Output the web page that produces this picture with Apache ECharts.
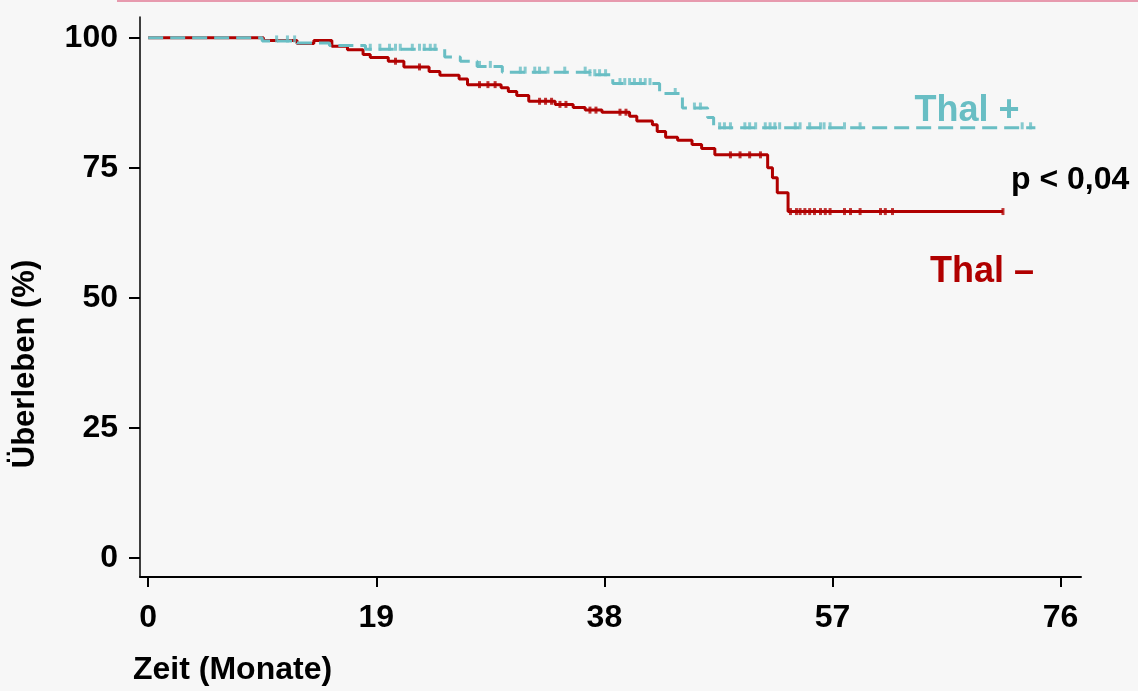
<!DOCTYPE html>
<html>
<head>
<meta charset="utf-8">
<script src="https://cdn.jsdelivr.net/npm/echarts@6/dist/echarts.min.js"></script>
<style>
  html, body { margin: 0; padding: 0; background: #f7f7f7; }
  #chart { width: 1138px; height: 691px; }
</style>
</head>
<body>
<div id="chart"></div>
<script>
// Kaplan-Meier Stufen: Zeitpunkt (Monate) -> Überleben (%) ab diesem Zeitpunkt
const thalMinusTimes = [0, 9.6, 12.4, 13.8, 15.3, 16.6, 17.9, 18.5, 20.0, 21.3, 23.4, 24.3, 25.9, 26.6, 29.4, 30.0, 30.7, 31.7, 33.9, 35.4, 36.4, 37.8, 40.1, 40.7, 42.0, 42.4, 43.1, 44.1, 45.3, 46.1, 47.2, 51.6, 52.0, 52.4, 53.3, 71.2];
const thalMinusSurv = [100, 99.5, 98.9, 99.5, 98.4, 97.7, 96.8, 96.2, 95.5, 94.4, 93.5, 92.8, 92.1, 91.0, 90.4, 89.7, 88.9, 87.8, 87.2, 86.6, 86.1, 85.7, 84.9, 84.0, 83.3, 82.0, 80.9, 80.3, 79.5, 78.7, 77.5, 75.0, 73.1, 70.2, 66.6, 66.6];

const thalPlusTimes = [0, 9.5, 12.4, 15.1, 18.1, 24.7, 26.0, 27.4, 29.5, 36.8, 38.7, 42.6, 44.5, 46.6, 47.1, 73.9];
const thalPlusSurv = [100, 99.4, 99.0, 98.5, 97.8, 96.3, 95.5, 94.5, 93.4, 92.9, 91.2, 89.3, 86.5, 84.7, 82.7, 82.7];

// zensierte Beobachtungen (Monate)
const thalMinusCensored = [20.6, 22.6, 27.6, 28.3, 28.9, 32.6, 33.1, 33.6, 34.3, 34.8, 36.8, 37.3, 39.3, 39.8, 48.5, 49.3, 50.1, 51.0, 53.5, 54.0, 54.3, 54.7, 55.1, 55.5, 56.0, 56.4, 56.8, 58.0, 58.5, 59.3, 61.0, 61.4, 62.0, 71.2];
const thalPlusCensored = [10.7, 11.6, 12.2, 18.5, 19.3, 20.1, 20.6, 21.0, 22.0, 22.6, 23.0, 23.5, 23.9, 27.6, 28.5, 31.0, 31.4, 32.2, 32.6, 33.3, 34.7, 36.4, 36.8, 37.2, 37.6, 38.1, 39.3, 39.7, 40.1, 40.5, 41.0, 41.4, 41.8, 43.9, 45.5, 46.0, 47.6, 48.0, 48.5, 49.7, 50.1, 50.6, 51.4, 51.8, 52.2, 52.6, 53.9, 54.3, 55.1, 56.0, 56.3, 56.8, 58.0, 59.3, 72.8, 73.5];

const xTicks = [0, 19, 38, 57, 76];
const yTicks = [0, 25, 50, 75, 100];

const RED = "#b00000";
const TEAL = "#69bec4";
const FONT = "Liberation Sans, Arial, sans-serif";

function stepAt(times, surv, t) {
  let v = surv[0];
  for (let i = 0; i < times.length; i++) {
    if (times[i] <= t) v = surv[i];
  }
  return v;
}

const pairs = (xs, ys) => xs.map((x, i) => [x, ys[i]]);
const censored = (list, times, surv) => list.map(t => [t, stepAt(times, surv, t)]);

const chart = echarts.init(document.getElementById("chart"));

chart.setOption({
  backgroundColor: "#f7f7f7",
  animation: false,
  grid: { left: 140, top: 17, width: 941, height: 560 },
  xAxis: {
    type: "value",
    min: -0.68,
    max: 77.7,
    splitLine: { show: false },
    axisLine: { onZero: false, lineStyle: { color: "#000", width: 2 } },
    axisTick: { customValues: xTicks, length: 10, lineStyle: { color: "#000", width: 2 } },
    axisLabel: {
      customValues: xTicks,
      margin: 25,
      color: "#000",
      fontFamily: FONT,
      fontWeight: "bold",
      fontSize: 32
    }
  },
  yAxis: {
    type: "value",
    min: -3.65,
    max: 104,
    splitLine: { show: false },
    axisLine: { onZero: false, lineStyle: { color: "#000", width: 1.5 } },
    axisTick: { customValues: yTicks, length: 11, lineStyle: { color: "#000", width: 2 } },
    axisLabel: {
      customValues: yTicks,
      margin: 22,
      color: "#000",
      fontFamily: FONT,
      fontWeight: "bold",
      fontSize: 32
    }
  },
  series: [
    {
      name: "Thal –",
      type: "line",
      step: "end",
      showSymbol: false,
      data: pairs(thalMinusTimes, thalMinusSurv),
      lineStyle: { color: RED, width: 3 },
      z: 2
    },
    {
      name: "Thal – zensiert",
      type: "scatter",
      symbol: "rect",
      symbolSize: [3, 7],
      data: censored(thalMinusCensored, thalMinusTimes, thalMinusSurv),
      itemStyle: { color: RED },
      z: 2
    },
    {
      name: "Thal +",
      type: "line",
      step: "end",
      showSymbol: false,
      data: pairs(thalPlusTimes, thalPlusSurv),
      lineStyle: { color: TEAL, width: 3, type: [15, 7] },
      z: 3
    },
    {
      name: "Thal + zensiert",
      type: "scatter",
      symbol: "rect",
      symbolSize: [3, 7],
      symbolOffset: [0, -2],
      data: censored(thalPlusCensored, thalPlusTimes, thalPlusSurv),
      itemStyle: { color: TEAL },
      z: 3
    }
  ],
  graphic: [
    {
      type: "rect",
      shape: { x: 117, y: 0, width: 1021, height: 2 },
      style: { fill: "#e79aae" }
    },
    {
      type: "text",
      x: 25,
      y: 364,
      rotation: Math.PI / 2,
      style: {
        text: "Überleben (%)",
        font: "bold 31px " + FONT,
        fill: "#000",
        textAlign: "center",
        textVerticalAlign: "middle"
      }
    },
    {
      type: "text",
      x: 133,
      y: 670,
      style: {
        text: "Zeit (Monate)",
        font: "bold 32px " + FONT,
        fill: "#000",
        textAlign: "left",
        textVerticalAlign: "middle"
      }
    },
    {
      type: "text",
      x: 967,
      y: 111,
      style: {
        text: "Thal +",
        font: "bold 36px " + FONT,
        fill: TEAL,
        textAlign: "center",
        textVerticalAlign: "middle"
      }
    },
    {
      type: "text",
      x: 982,
      y: 272,
      style: {
        text: "Thal –",
        font: "bold 36px " + FONT,
        fill: RED,
        textAlign: "center",
        textVerticalAlign: "middle"
      }
    },
    {
      type: "text",
      x: 1011,
      y: 180,
      style: {
        text: "p < 0,04",
        font: "bold 32px " + FONT,
        fill: "#000",
        textAlign: "left",
        textVerticalAlign: "middle"
      }
    }
  ]
});

window.addEventListener("resize", () => chart.resize());
</script>
</body>
</html>
